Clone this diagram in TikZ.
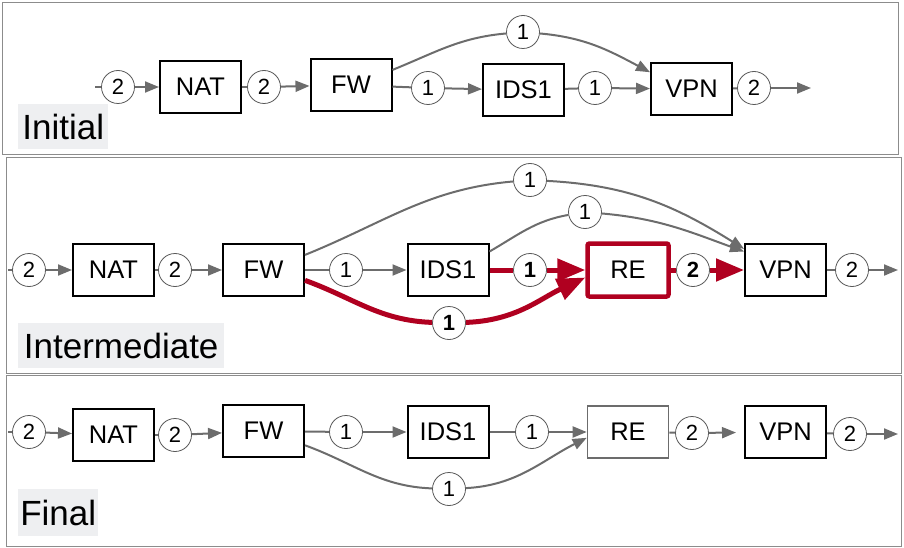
\documentclass[tikz,border=0pt]{standalone}
\usepackage{fontspec}
\setmainfont{Liberation Sans}
\usetikzlibrary{arrows.meta}
\definecolor{edgegray}{RGB}{108,108,108}
\definecolor{redc}{RGB}{176,0,32}
\definecolor{panelgray}{RGB}{140,140,140}
\definecolor{labelbg}{RGB}{238,239,241}
\begin{document}
\begin{tikzpicture}[x=1pt,y=-1pt,
 box/.style={draw=black,line width=2pt,minimum width=81pt,minimum height=52pt,inner sep=0pt,font=\fontsize{25.5}{25.5}\selectfont},
 rebox/.style={box,draw=redc,line width=4.5pt,rounded corners=2pt,minimum width=81pt,minimum height=53pt},
 grebox/.style={box,draw=edgegray,line width=1.6pt},
 lbl/.style={circle,draw=black!65,line width=0.8pt,fill=white,minimum size=33pt,inner sep=0pt,font=\fontsize{22}{22}\selectfont},
 edge/.style={draw=edgegray,line width=2pt},
 arr/.style={edge,-{Triangle[length=14pt,width=11pt]}},
 redge/.style={draw=redc,line width=5pt},
 rarr/.style={redge,-{Triangle[length=28pt,width=22pt]}},
 panel/.style={draw=panelgray,line width=1pt},
 title/.style={fill=labelbg,inner sep=0pt,anchor=north west,font=\fontsize{35}{35}\selectfont}
]
\useasboundingbox (0,0) rectangle (904,548);
% panels
\draw[panel] (2.5,2.5) rectangle (898,155);
\draw[panel] (6,158) rectangle (901,373);
\draw[panel] (6,375) rectangle (901,546);
\node[title,minimum width=90pt,minimum height=45pt] (t1) at (18,104) {Initial};
\node[title,minimum width=206pt,minimum height=45pt] (t2) at (18,323) {Intermediate};
\node[title,minimum width=80pt,minimum height=47pt] (t3) at (18,489) {Final};

% ---------- panel 1 ----------
\coordinate (a-in) at (95,87);
\node[lbl] (a0) at (118,87) {2};
\node[box] (a-nat) at (200.5,87) {NAT};
\node[lbl] (a1) at (264,87) {2};
\node[box] (a-fw) at (351,85) {FW};
\node[lbl] (a2) at (428,88) {1};
\node[box] (a-ids) at (523.5,90) {IDS1};
\node[lbl] (a3) at (595,88) {1};
\node[box] (a-vpn) at (691.5,89) {VPN};
\node[lbl] (a4) at (754,88) {2};
\coordinate (a-out) at (811,88);
\node[lbl] (a5) at (523,32) {1};
\draw[edge] (a-in) -- (a0);
\draw[arr] (a0) -- (a-nat);
\draw[edge] (a-nat) -- (a1);
\draw[arr] (a1) -- (a-fw);
\draw[edge] (a-fw) -- (a2);
\draw[arr] (a2) -- (a-ids);
\draw[edge] (a-ids) -- (a3);
\draw[arr] (a3) -- (a-vpn);
\draw[edge] (a-vpn) -- (a4);
\draw[arr] (a4) -- (a-out);
\draw[edge] (a-fw.20) to[out=22,in=185] (a5);
\draw[arr] (a5) to[out=-5,in=152] (a-vpn.158);

% ---------- panel 2 ----------
\coordinate (b-in) at (8,270);
\node[lbl] (b0) at (29,270) {2};
\node[box] (b-nat) at (113.5,270) {NAT};
\node[lbl] (b1) at (175,270) {2};
\node[box] (b-fw) at (263.5,270) {FW};
\node[lbl] (b2) at (346,270) {1};
\node[box] (b-ids) at (448,270) {IDS1};
\node[lbl] (b3) at (530,270) {\textbf{1}};
\node[rebox] (b-re) at (628,270) {RE};
\node[lbl] (b4) at (693,270) {\textbf{2}};
\node[box] (b-vpn) at (785.5,270) {VPN};
\node[lbl] (b5) at (852,270) {2};
\coordinate (b-out) at (898,270);
\node[lbl] (b6) at (530,180) {1};
\node[lbl] (b7) at (585,212) {1};
\node[lbl] (b8) at (449,323) {\textbf{1}};
\draw[edge] (b-in) -- (b0);
\draw[arr] (b0) -- (b-nat);
\draw[edge] (b-nat) -- (b1);
\draw[arr] (b1) -- (b-fw);
\draw[edge] (b-fw) -- (b2);
\draw[arr] (b2) -- (b-ids);
\draw[redge] (b-ids) -- (b3);
\draw[rarr] (b3) -- (b-re);
\draw[redge] (b-re) -- (b4);
\draw[rarr] (b4) -- (b-vpn);
\draw[edge] (b-vpn) -- (b5);
\draw[arr] (b5) -- (b-out);
\draw[edge] (b-fw.20) to[out=22,in=185] (b6);
\draw[arr] (b6) to[out=-3,in=148] (b-vpn.153);
\draw[edge] (b-ids.24) to[out=30,in=190] (b7);
\draw[arr] (b7) to[out=-5,in=160] (b-vpn.156);
\draw[redge] (b-fw.-14) to[out=-20,in=178] (b8);
\draw[rarr] (b8) to[out=2,in=205] (b-re.190);

% ---------- panel 3 ----------
\coordinate (c-in) at (8,432);
\node[lbl] (c0) at (29,432) {2};
\node[box] (c-nat) at (113.5,435) {NAT};
\node[lbl] (c1) at (175,435) {2};
\node[box] (c-fw) at (263.5,431) {FW};
\node[lbl] (c2) at (346,432) {1};
\node[box] (c-ids) at (448,432) {IDS1};
\node[lbl] (c3) at (532,432) {1};
\node[grebox] (c-re) at (628,432) {RE};
\node[lbl] (c4) at (692,433) {2};
\node[box] (c-vpn) at (785.5,432) {VPN};
\node[lbl] (c5) at (850,434) {2};
\coordinate (c-out) at (898,434);
\node[lbl] (c6) at (449,489) {1};
\draw[edge] (c-in) -- (c0);
\draw[arr] (c0) -- (c-nat);
\draw[edge] (c-nat) -- (c1);
\draw[arr] (c1) -- (c-fw);
\draw[edge] (c-fw) -- (c2);
\draw[arr] (c2) -- (c-ids);
\draw[edge] (c-ids) -- (c3);
\draw[arr] (c3) -- (c-re);
\draw[edge] (c-re) -- (c4);
\draw[arr,shorten >=8pt] (c4) -- (c-vpn);
\draw[edge] (c-vpn) -- (c5);
\draw[arr] (c5) -- (c-out);
\draw[edge] (c-fw.-19) to[out=-20,in=178] (c6);
\draw[arr] (c6) to[out=3,in=207] (c-re.188);
\end{tikzpicture}
\end{document}
